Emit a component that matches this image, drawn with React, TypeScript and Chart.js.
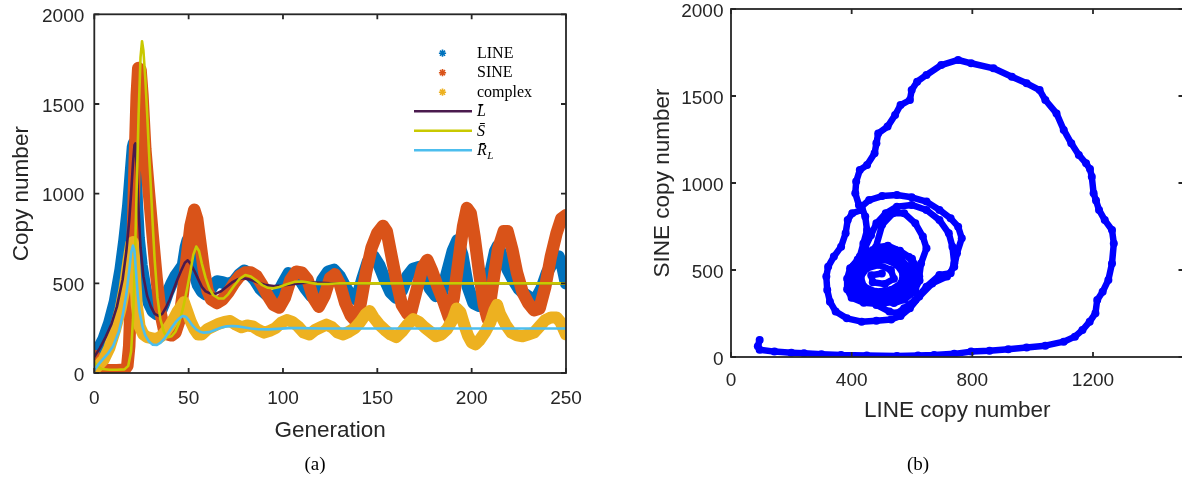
import React, { useEffect, useRef } from 'react';
import { Chart, registerables } from 'chart.js';

Chart.register(...registerables);

// ---------- tick values ----------
const GEN_TICKS = [0, 50, 100, 150, 200, 250];
const COPY_TICKS = [0, 500, 1000, 1500, 2000];
const B_X_TICKS = [0, 400, 800, 1200];
const B_Y_TICKS = [0, 500, 1000, 1500, 2000];

// ---------- panel (a): stochastic runs ----------
const LINE_GEN = [0, 2, 5, 8, 11, 14, 16, 18, 19.5, 20.5, 21, 21.8, 22.5, 23.5, 25, 27, 29, 31, 33, 35, 37, 39, 41, 43, 45, 47, 48.5, 49.5, 51, 53, 55, 57, 59, 61, 63, 65, 68, 71, 74, 77, 79.5, 82, 85, 88, 91, 94, 97, 100, 103, 106, 109, 112, 115, 118, 121, 124, 127, 130, 133, 136, 139, 142, 145, 148, 151, 154, 157, 160, 163, 166, 169, 172, 175, 178, 181, 184, 187, 190, 192.5, 195, 198, 201, 204, 207, 210, 212.5, 214, 216, 219, 222, 225, 228, 231, 234, 237, 240, 243, 246, 248, 250];
const LINE_VAL = [100, 130, 190, 280, 400, 580, 740, 930, 1130, 1260, 1280, 1200, 950, 750, 600, 470, 390, 345, 330, 340, 390, 450, 500, 540, 570, 600, 700, 740, 650, 560, 490, 455, 440, 455, 490, 510, 505, 495, 510, 550, 570, 555, 520, 470, 440, 420, 440, 500, 555, 545, 520, 470, 430, 420, 520, 565, 575, 540, 480, 430, 410, 520, 620, 650, 600, 520, 450, 420, 460, 540, 580, 590, 540, 470, 430, 440, 560, 680, 740, 660, 480, 390, 375, 400, 560, 680, 710, 650, 580, 520, 470, 440, 420, 410, 470, 560, 620, 650, 600, 500];

const SINE_GEN = [0, 1, 2, 4, 8, 12, 16, 17.5, 18.5, 19.5, 20.5, 21.5, 22.5, 23.3, 24.5, 25.5, 27, 29, 31, 33, 35, 37, 39, 41, 43, 45, 47, 49, 51, 53, 54.5, 56, 58, 60, 62, 65, 68, 71, 74, 77, 80, 83, 86, 89, 92, 95, 98, 101, 104, 107, 110, 113, 116, 119, 122, 125, 127.5, 130, 133, 136, 138.5, 141, 144, 147, 150, 153, 155, 157, 160, 163, 166, 168, 171, 174, 176.5, 179, 182, 185, 188, 190.5, 193, 195.5, 197.5, 199.5, 201.5, 204, 206.5, 208.5, 211, 214, 217, 219, 221.5, 224, 227, 230, 233, 236, 239, 242, 245, 247.5, 250];
const SINE_VAL = [95, 60, 35, 20, 15, 15, 18, 40, 150, 450, 800, 1200, 1550, 1700, 1690, 1550, 1250, 1000, 760, 530, 340, 240, 215, 210, 225, 290, 450, 640, 820, 910, 860, 740, 580, 460, 410, 390, 410, 450, 500, 540, 560, 560, 540, 490, 430, 380, 365, 420, 520, 565, 560, 520, 420, 370, 430, 530, 550, 500, 390, 320, 290, 380, 560, 700, 780, 820, 790, 680, 520, 380, 330, 345, 470, 590, 630, 570, 480, 400, 310, 420, 620, 820, 920, 890, 760, 560, 380, 300, 480, 690, 790, 790, 690, 560, 450, 390, 350, 360, 480, 650, 780, 860, 880];

const CPX_GEN = [0, 2, 5, 8, 11, 14, 16, 18, 19.5, 20.5, 21.5, 22.5, 24, 26, 28, 30, 32, 34, 36, 38, 40, 42, 44, 46, 47.5, 49, 51, 53, 55, 57, 60, 63, 66, 69, 72, 75, 78, 81, 84, 87, 90, 93, 96, 99, 102, 105, 108, 111, 114, 117, 120, 123, 126, 129, 132, 135, 138, 141, 144, 146, 148, 151, 154, 157, 160, 163, 166, 169, 172, 175, 178, 181, 184, 187, 190, 192, 194, 196, 198, 200, 202, 204, 207, 210, 212, 213.5, 215, 218, 221, 224, 227, 230, 233, 236, 239, 242, 245, 247, 250];
const CPX_VAL = [20, 40, 75, 140, 240, 360, 470, 620, 720, 730, 560, 380, 260, 215, 200, 195, 190, 195, 210, 235, 265, 300, 340, 370, 395, 350, 290, 245, 215, 215, 245, 260, 275, 285, 290, 270, 255, 265, 260, 240, 225, 235, 250, 280, 295, 285, 260, 225, 215, 240, 255, 270, 255, 225, 215, 230, 250, 285, 330, 345, 310, 270, 240, 215, 200, 230, 270, 300, 285, 255, 230, 205, 215, 245, 300, 360, 340, 270, 210, 170, 160, 180, 225, 285, 350, 380, 330, 270, 225, 210, 205, 215, 225, 260, 295, 310, 310, 285, 215];

// ---------- panel (a): mean-field curves ----------
const LBAR_GEN = [0, 3, 6, 9, 12, 15, 17, 18.5, 19.5, 20.5, 21.3, 21.8, 22.5, 23.5, 24.5, 26, 28, 30, 32, 34, 36, 38, 40, 42, 44, 46, 48, 49.5, 51, 53, 55, 57, 59, 61, 64, 67, 70, 73, 76, 79, 82, 85, 88, 91, 95, 100, 105, 110, 115, 120, 125, 135, 150, 250];
const LBAR_VAL = [90, 140, 200, 270, 370, 520, 680, 850, 1000, 1170, 1270, 1280, 1150, 900, 700, 540, 430, 370, 330, 318, 330, 365, 410, 465, 520, 570, 615, 628, 610, 570, 525, 480, 455, 445, 440, 455, 480, 505, 522, 528, 522, 512, 500, 490, 485, 488, 495, 502, 505, 503, 500, 498, 500, 500];

const SBAR_GEN = [0, 2, 4, 8, 12, 16, 18, 19.5, 20.5, 21.5, 22.5, 23.5, 24.5, 25.3, 26, 27, 28, 29, 30, 31, 32, 33.5, 35, 37, 39, 41, 43, 45, 47, 49, 51, 52.5, 54, 55.5, 57, 59, 61, 63, 66, 68.5, 71, 74, 77, 80, 83, 86, 89, 92, 95, 98, 102, 106, 110, 114, 118, 124, 130, 250];
const SBAR_VAL = [60, 35, 22, 18, 18, 20, 40, 120, 300, 620, 1050, 1450, 1760, 1850, 1800, 1650, 1450, 1230, 1030, 820, 630, 420, 300, 225, 200, 205, 230, 280, 360, 460, 570, 660, 705, 680, 610, 530, 470, 435, 415, 415, 440, 485, 525, 546, 538, 515, 490, 475, 472, 480, 495, 508, 510, 504, 497, 496, 500, 500];

const RBAR_GEN = [0, 2, 4, 7, 10, 13, 15, 17, 18.5, 19.5, 20.5, 21.3, 22, 23, 24, 25.5, 27, 29, 31, 33, 35, 37, 39, 41, 43, 45, 47, 48.5, 50, 52, 54, 56, 58, 61, 64, 67, 70, 73, 76, 79, 83, 87, 92, 97, 103, 110, 120, 250];
const RBAR_VAL = [15, 45, 70, 105, 150, 230, 320, 440, 570, 670, 710, 680, 580, 440, 340, 260, 210, 175, 158, 156, 168, 190, 220, 252, 282, 305, 318, 314, 295, 265, 243, 230, 225, 228, 240, 252, 260, 262, 260, 255, 248, 244, 243, 246, 250, 250, 248, 248];

// ---------- panel (b): SINE vs LINE trajectory ----------
const B_LINE = [
  95, 89, 95, 144, 200, 242, 300, 365, 450, 550, 620, 673, 740, 796, 857, 919, 980, 1042, 1103, 1140, 1165, 1189, 1208, 1214, 1232, 1251, 1263, 1269, 1263, 1239, 1220, 1210, 1202, 1196, 1190, 1177, 1153, 1128, 1103, 1079, 1042, 1023, 980, 931, 870, 796, 753,
  697, 648, 617, 599, 593, 562, 544, 519, 488, 482, 476, 451, 427, 415, 412, 424, 433,
  402, 387, 380, 365, 341, 322, 316, 319, 328, 347, 384, 433, 482, 531, 562, 593, 624, 667, 716, 740, 749, 765, 753, 728, 691, 648, 599, 550, 501, 458, 433,
  445, 451, 439, 427, 421, 427, 445, 482, 525, 550, 574, 611, 648, 691, 728, 740, 734, 722, 691, 648, 599, 550, 513,
  482, 464, 445, 430, 415, 410, 425, 455, 500, 540, 575, 611, 624, 630, 648, 636, 611, 574, 537, 501,
  480, 520, 560, 600, 620, 625, 610, 580, 540, 490, 440, 400, 385, 385, 395, 420, 450,
  470, 545, 590, 612, 612, 595, 560, 515, 465, 420, 398, 395, 405, 430,
  490, 530, 565, 590, 600, 585, 550, 500, 455, 420, 405, 412, 440, 470,
  500, 545, 575, 580, 560, 520, 470, 430, 420, 430, 460,
  510, 550, 570, 565, 530, 480, 440, 430, 450, 490, 530, 540, 510, 470, 465, 500,
];
const B_SINE = [
  98, 62, 42, 31, 25, 21, 16, 11, 8, 6, 8, 11, 18, 31, 36, 44, 54, 65, 88, 117, 155, 203, 251, 328, 375, 443, 538, 653, 730, 787, 845, 900, 941, 1036, 1080, 1113, 1161, 1228, 1305, 1400, 1477, 1534, 1573, 1611, 1659, 1688, 1707,
  1678, 1621, 1582, 1534, 1477, 1448, 1391, 1324, 1285, 1228, 1171, 1103, 1075, 1008, 941, 874, 845,
  826, 787, 711, 634, 577, 519, 462, 385, 318, 261, 222, 203, 209, 216, 236, 280, 347, 423, 462, 519, 596, 682, 749, 797, 845, 893, 918, 931, 925, 902, 864,
  807, 730, 653, 577, 500, 423, 347, 299, 261, 251, 280, 328, 404, 471, 481, 538, 634, 711, 787, 845, 874, 864, 826,
  768, 700, 630, 560, 490, 430, 380, 340, 320, 310, 330, 380, 462, 538, 625, 692, 768, 826, 826, 760,
  630, 640, 610, 565, 500, 440, 390, 350, 318, 305, 312, 340, 390, 450, 510, 560, 600,
  615, 615, 575, 505, 440, 380, 335, 320, 322, 350, 400, 460, 520, 565,
  600, 595, 560, 510, 450, 400, 360, 340, 350, 385, 440, 495, 540, 575,
  570, 555, 505, 445, 395, 365, 365, 400, 460, 510, 550,
  560, 530, 480, 425, 385, 375, 405, 460, 510, 530, 500, 450, 420, 430, 470, 480,
];

// ---------- legend labels ----------
const MARK_LABELS = ['LINE', 'SINE', 'complex'];
const CURVE_LABELS = ['L\u0304', 'S\u0304', 'R\u0304'];

// ---------- styles ----------
const C_LINE = '#0072BD';
const C_SINE = '#D95319';
const C_CPX = '#EDB120';
const C_LBAR = '#4A1A4E';
const C_SBAR = '#C9C900';
const C_RBAR = '#4DBEEE';
const C_AXIS = '#262626';
const SANS = '"Liberation Sans", Arial, sans-serif';
const SERIF = '"Liberation Serif", "Times New Roman", serif';
const TICK_FONT = { family: SANS, size: 19 };
const TL = 5;

const pts = (xs: number[], ys: number[]) => xs.map((x, i) => ({ x, y: ys[i] }));

function drawFrame(chart: any, xt: number[], yt: number[]) {
  const { ctx, chartArea: a, scales } = chart;
  ctx.save();
  ctx.strokeStyle = C_AXIS;
  ctx.lineWidth = 1.8;
  ctx.beginPath();
  for (const v of xt) {
    const px = scales.x.getPixelForValue(v);
    ctx.moveTo(px, a.bottom); ctx.lineTo(px, a.bottom - TL);
    ctx.moveTo(px, a.top); ctx.lineTo(px, a.top + TL);
  }
  for (const v of yt) {
    const py = scales.y.getPixelForValue(v);
    ctx.moveTo(a.left, py); ctx.lineTo(a.left + TL, py);
    ctx.moveTo(a.right, py); ctx.lineTo(a.right - TL, py);
  }
  ctx.stroke();
  ctx.strokeRect(a.left, a.top, a.right - a.left, a.bottom - a.top);
  ctx.restore();
}

function drawTitles(chart: any, xTitle: string, xBase: number, yTitle: string, yBaseX: number, panel: string, panelX: number) {
  const { ctx, chartArea: a } = chart;
  ctx.save();
  ctx.fillStyle = C_AXIS;
  ctx.font = `22.5px ${SANS}`;
  ctx.textAlign = 'center';
  ctx.textBaseline = 'alphabetic';
  ctx.fillText(xTitle, (a.left + a.right) / 2, xBase);
  ctx.save();
  ctx.translate(yBaseX, (a.top + a.bottom) / 2);
  ctx.rotate(-Math.PI / 2);
  ctx.fillText(yTitle, 0, 0);
  ctx.restore();
  ctx.fillStyle = '#000';
  ctx.font = `19px ${SERIF}`;
  ctx.fillText(panel, panelX, 469.5);
  ctx.restore();
}

function star(ctx: CanvasRenderingContext2D, x: number, y: number, r: number, color: string) {
  ctx.strokeStyle = color;
  ctx.lineWidth = 1.6;
  ctx.beginPath();
  for (let k = 0; k < 4; k++) {
    const ang = (k * Math.PI) / 4;
    ctx.moveTo(x - r * Math.cos(ang), y - r * Math.sin(ang));
    ctx.lineTo(x + r * Math.cos(ang), y + r * Math.sin(ang));
  }
  ctx.stroke();
}

const panelAPlugin = {
  id: 'panelA',
  afterDraw(chart: any) {
    drawFrame(chart, GEN_TICKS, COPY_TICKS);
    drawTitles(chart, 'Generation', 436.5, 'Copy number', 27.5, '(a)', 315);
    const ctx: CanvasRenderingContext2D = chart.ctx;
    ctx.save();
    const markColors = [C_LINE, C_SINE, C_CPX];
    const lineColors = [C_LBAR, C_SBAR, C_RBAR];
    const bases = [57.5, 77, 96.5, 116, 135.5, 155];
    ctx.fillStyle = '#000';
    ctx.textAlign = 'left';
    ctx.textBaseline = 'alphabetic';
    MARK_LABELS.forEach((lab, i) => {
      star(ctx, 442.5, bases[i] - 4.3, 3.6, markColors[i]);
      ctx.font = `16px ${SERIF}`;
      ctx.fillText(lab, 477, bases[i]);
    });
    CURVE_LABELS.forEach((lab, i) => {
      const by = bases[i + 3];
      ctx.strokeStyle = lineColors[i];
      ctx.lineWidth = 2.6;
      ctx.beginPath();
      ctx.moveTo(414, by - 4.8);
      ctx.lineTo(472, by - 4.8);
      ctx.stroke();
      ctx.font = `italic 16px ${SERIF}`;
      ctx.fillText(lab, 477, by);
      if (i === 2) {
        const w = ctx.measureText('R').width;
        ctx.font = `italic 11px ${SERIF}`;
        ctx.fillText('L', 477 + w + 0.5, by + 3.5);
      }
    });
    ctx.restore();
  },
};

const panelBPlugin = {
  id: 'panelB',
  afterDraw(chart: any) {
    drawFrame(chart, B_X_TICKS, B_Y_TICKS);
    drawTitles(chart, 'LINE copy number', 416.5, 'SINE copy number', 68.6, '(b)', 318);
  },
};

function axisCommon(ticks: number[], padding: number, extra: any) {
  return {
    type: 'linear',
    grid: { display: false, drawTicks: false },
    border: { display: false },
    afterBuildTicks: (s: any) => { s.ticks = ticks.map((v) => ({ value: v })); },
    ticks: {
      color: C_AXIS,
      font: TICK_FONT,
      padding,
      autoSkip: false,
      maxRotation: 0,
      callback: (v: any) => String(v),
      ...extra,
    },
  };
}

// fix the axis box sizes and stop label overflow from moving the plot area
const fitX = (h: number) => (s: any) => { s.height = h; s.paddingLeft = 0; s.paddingRight = 0; s.paddingTop = 0; s.paddingBottom = 0; };
const fitY = (w: number) => (s: any) => { s.width = w; s.paddingLeft = 0; s.paddingRight = 0; s.paddingTop = 0; s.paddingBottom = 0; };

function band(label: string, xs: number[], ys: number[], color: string, width: number, order: number) {
  return {
    label,
    data: pts(xs, ys),
    borderColor: color,
    backgroundColor: color,
    borderWidth: width,
    pointRadius: 0,
    pointHoverRadius: 0,
    tension: 0,
    fill: false,
    borderJoinStyle: 'round',
    borderCapStyle: 'round',
    order,
  };
}

export default function App() {
  const refA = useRef<HTMLCanvasElement>(null);
  const refB = useRef<HTMLCanvasElement>(null);

  useEffect(() => {
    const chartA = new Chart(refA.current as HTMLCanvasElement, {
      type: 'line',
      data: {
        datasets: [
          band('LINE', LINE_GEN, LINE_VAL, C_LINE, 12.5, 5),
          band('SINE', SINE_GEN, SINE_VAL, C_SINE, 12.5, 4),
          band('complex', CPX_GEN, CPX_VAL, C_CPX, 12, 3),
          band('L', LBAR_GEN, LBAR_VAL, C_LBAR, 2.6, 2),
          band('S', SBAR_GEN, SBAR_VAL, C_SBAR, 2.6, 1),
          band('R_L', RBAR_GEN, RBAR_VAL, C_RBAR, 2.6, 0),
        ] as any,
      },
      options: {
        animation: false,
        responsive: false,
        devicePixelRatio: 1,
        events: [],
        layout: { padding: { left: 0, top: 14.3, right: 34, bottom: 0 } },
        plugins: { legend: { display: false }, tooltip: { enabled: false } },
        scales: {
          x: { ...axisCommon(GEN_TICKS, 14, {}), min: 0, max: 250, afterFit: fitX(110) },
          y: { ...axisCommon(COPY_TICKS, 10, { labelOffset: 2.5 }), min: 0, max: 2000, afterFit: fitY(94.3) },
        } as any,
      },
      plugins: [panelAPlugin],
    });

    const chartB = new Chart(refB.current as HTMLCanvasElement, {
      type: 'scatter',
      data: {
        datasets: [
          {
            label: 'trajectory',
            data: pts(B_LINE, B_SINE),
            showLine: true,
            borderColor: '#0000FF',
            backgroundColor: '#0000FF',
            borderWidth: 6.5,
            pointRadius: 4,
            pointBorderWidth: 0,
            pointHoverRadius: 0,
            tension: 0,
            borderJoinStyle: 'round',
            borderCapStyle: 'round',
          },
        ] as any,
      },
      options: {
        animation: false,
        responsive: false,
        devicePixelRatio: 1,
        events: [],
        layout: { padding: { left: 0, top: 9, right: 16.5, bottom: 0 } },
        plugins: { legend: { display: false }, tooltip: { enabled: false } },
        scales: {
          x: { ...axisCommon(B_X_TICKS, 12.6, {}), min: 0, max: 1500, afterFit: fitX(126) },
          y: { ...axisCommon(B_Y_TICKS, 7.5, { labelOffset: 2.5 }), min: 0, max: 2000, afterFit: fitY(131) },
        } as any,
      },
      plugins: [panelBPlugin],
    });

    return () => {
      chartA.destroy();
      chartB.destroy();
    };
  }, []);

  return (
    <div style={{ position: 'fixed', left: 0, top: 0, width: 1182, height: 483, overflow: 'hidden', background: '#fff' }}>
      <canvas ref={refA} width={600} height={483} style={{ position: 'absolute', left: 0, top: 0, width: 600, height: 483 }} />
      <canvas ref={refB} width={600} height={483} style={{ position: 'absolute', left: 600, top: 0, width: 600, height: 483 }} />
    </div>
  );
}
